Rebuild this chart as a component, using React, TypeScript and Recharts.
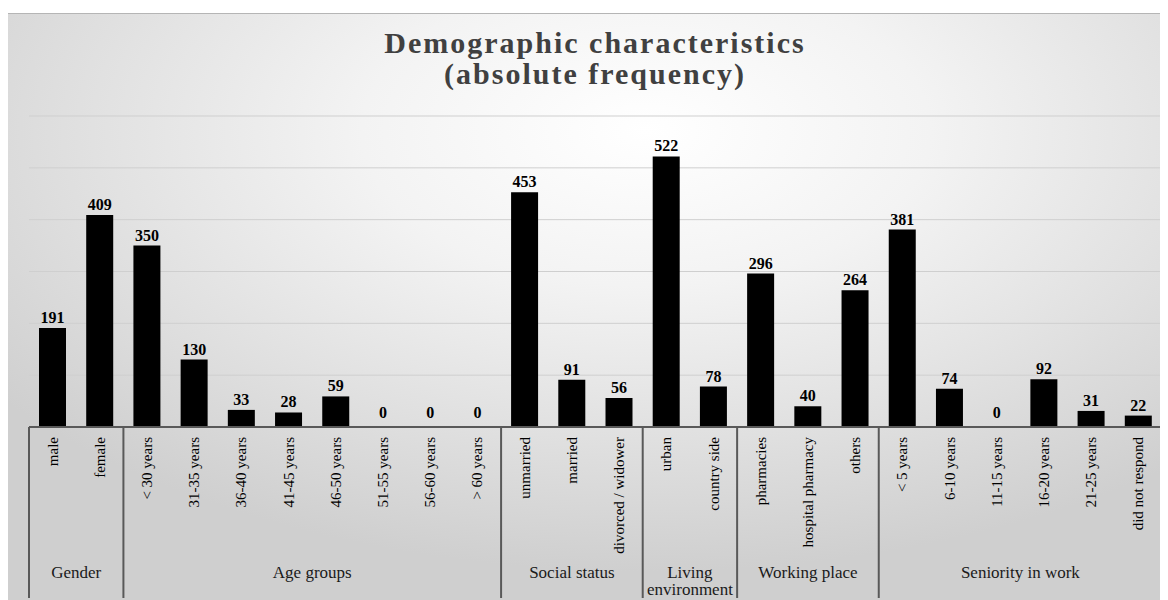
import React from 'react';
import { BarChart, Bar, XAxis, YAxis, CartesianGrid, Cell } from 'recharts';

const categories = [
  'male', 'female',
  '< 30 years', '31-35 years', '36-40 years', '41-45 years', '46-50 years', '51-55 years', '56-60 years', '> 60 years',
  'unmarried', 'married', 'divorced / widower',
  'urban', 'country side',
  'pharmacies', 'hospital pharmacy', 'others',
  '< 5 years', '6-10 years', '11-15 years', '16-20 years', '21-25 years', 'did not respond',
];
const values = [
  191, 409,
  350, 130, 33, 28, 59, 0, 0, 0,
  453, 91, 56,
  522, 78,
  296, 40, 264,
  381, 74, 0, 92, 31, 22,
];
const groupLines = [['Gender'], ['Age groups'], ['Social status'], ['Living', 'environment'], ['Working place'], ['Seniority in work']];
const groupSizes = [2, 8, 3, 2, 3, 6];
const yTicks = [0, 100, 200, 300, 400, 500, 600];

const data = categories.map((c, i) => ({ name: c, value: values[i] }));

const groupStarts: number[] = [];
{
  let s = 0;
  for (const n of groupSizes) { groupStarts.push(s); s += n; }
}

const W = 1160;
const H = 592;
const AXIS_H = 173;
const PLOT_W = W - 21 - 6;
const LINE = '#595959';
const FONT = '"Liberation Serif", "Times New Roman", serif';

const Tick = (props: any) => {
  const { x, y, payload, index } = props;
  const bw = payload && payload.offset ? payload.offset * 2 : PLOT_W / categories.length;
  const ty = y + 10;
  const g = groupStarts.indexOf(index);
  const bottom = y + AXIS_H - 2;
  return (
    <g>
      <text
        x={x}
        y={ty}
        transform={`rotate(-90, ${x}, ${ty})`}
        textAnchor="end"
        dominantBaseline="central"
        fontFamily={FONT}
        fontSize={15}
        fill="#000"
      >
        {payload.value}
      </text>
      {g >= 0 && (
        <g>
          <line x1={x - bw / 2} x2={x - bw / 2} y1={y} y2={bottom} stroke={LINE} strokeWidth={2} />
          {groupLines[g].map((ln, k) => (
            <text
              key={k}
              x={x - bw / 2 + (groupSizes[g] * bw) / 2}
              y={y + 151 + k * 17}
              textAnchor="middle"
              fontFamily={FONT}
              fontSize={17}
              fill="#1a1a1a"
            >
              {ln}
            </text>
          ))}
        </g>
      )}
      {index === categories.length - 1 && (
        <line x1={x + bw / 2} x2={x + bw / 2} y1={y} y2={bottom} stroke={LINE} strokeWidth={2} />
      )}
    </g>
  );
};

const ValueLabel = (props: any) => {
  const { x, y, width, value, height } = props;
  const top = height < 0 ? y + height : y;
  const gap = value === 0 ? 8 : 5;
  return (
    <text
      x={x + width / 2}
      y={top - gap}
      textAnchor="middle"
      fontFamily={FONT}
      fontWeight="bold"
      fontSize={16}
      fill="#000"
    >
      {value}
    </text>
  );
};

export default function App() {
  return (
    <div style={{ position: 'relative', width: W, height: H }}>
      <div
        style={{
          position: 'absolute',
          left: 0,
          top: 5,
          width: W,
          height: H - 5,
          borderTop: '1px solid #b5b5b5',
          background:
            'radial-gradient(ellipse 70% 75% at 55% 20%, #ffffff 0%, #f3f3f3 35%, #e0e0e0 70%, #cfcfcf 100%)',
        }}
      />
      <div
        style={{
          position: 'absolute',
          left: 0,
          top: 19,
          width: W + 14,
          textAlign: 'center',
          fontFamily: FONT,
          fontWeight: 'bold',
          fontSize: 30,
          lineHeight: '31px',
          letterSpacing: 2,
          color: '#404040',
        }}
      >
        <div>Demographic characteristics</div>
        <div>(absolute frequency)</div>
      </div>
      <div style={{ position: 'absolute', left: 0, top: 0 }}>
        <BarChart width={W} height={H} data={data} margin={{ top: 108, right: 6, left: 21, bottom: 0 }}>
          <CartesianGrid vertical={false} stroke="#cfcfcf" strokeWidth={1} />
          <YAxis hide width={0} domain={[0, 600]} ticks={yTicks} />
          <XAxis
            dataKey="name"
            interval={0}
            height={AXIS_H}
            tickSize={0}
            tickMargin={0}
            tickLine={false}
            axisLine={{ stroke: LINE, strokeWidth: 2 }}
            tick={<Tick />}
          />
          <Bar
            dataKey="value"
            fill="#000"
            barSize={27}
            minPointSize={(v: number) => (v === 0 ? 1 : 0)}
            isAnimationActive={false}
            label={<ValueLabel />}
          >
            {data.map((d, i) => (
              <Cell key={i} fill="#000" fillOpacity={d.value === 0 ? 0 : 1} />
            ))}
          </Bar>
        </BarChart>
      </div>
    </div>
  );
}
